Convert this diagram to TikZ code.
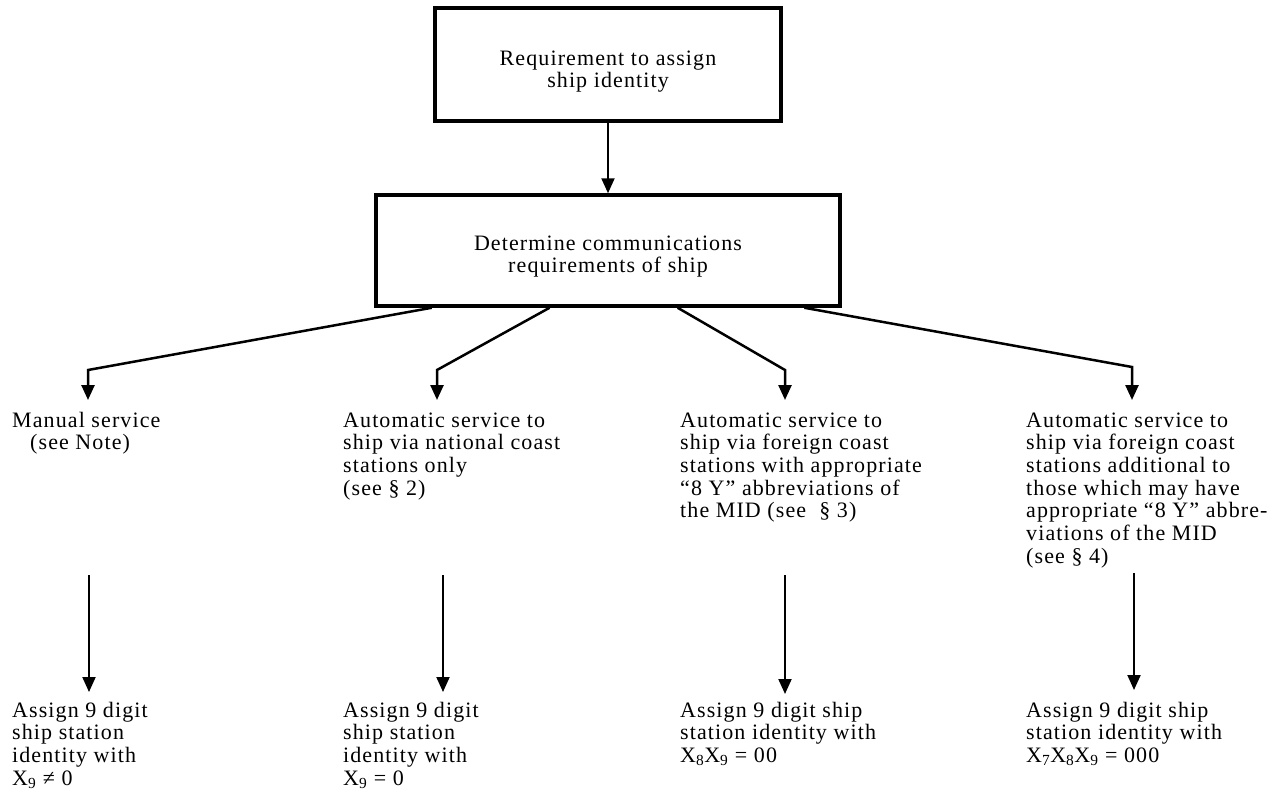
\documentclass[tikz,border=0pt]{standalone}
\usepackage{fontspec}
\setmainfont{Liberation Serif}[LetterSpace=5]
\usetikzlibrary{arrows.meta,calc}
\begin{document}
\begin{tikzpicture}[x=1pt,y=-1pt,
  box/.style={draw, line width=3.5pt, inner sep=0pt},
  txt/.style={anchor=north west, inner sep=0pt, align=left, font=\fontsize{22}{22.7}\selectfont},
  ctxt/.style={anchor=north, inner sep=0pt, align=center, font=\fontsize{22}{22.7}\selectfont},
  conn/.style={line width=2.5pt, line join=miter, -{Triangle[length=15pt,width=13pt]}},
  vconn/.style={line width=2pt, -{Triangle[length=15pt,width=13pt]}}]
\useasboundingbox (0,0) rectangle (1288,796);

% boxes
\node[box, minimum width=346pt, minimum height=113pt] (req) at (608,64.5) {};
\node[ctxt] (reqt) at (608,49) {\strut Requirement to assign\\ship identity};
\node[box, minimum width=464pt, minimum height=111pt] (det) at (608,250.5) {};
\node[ctxt] (dett) at (608,234) {\strut Determine communications\\requirements of ship};

\draw[vconn] (req.south) -- (det.north);

% branch start points on the bottom of the second box
\path (det.south west) -- (det.south east)
  coordinate[pos=0.123] (s1) coordinate[pos=0.375] (s2)
  coordinate[pos=0.649] (s3) coordinate[pos=0.920] (s4);

\coordinate (k1) at (88,370);   \coordinate (e1) at (88,400);
\coordinate (k2) at (437,370);  \coordinate (e2) at (437,400);
\coordinate (k3) at (785,370);  \coordinate (e3) at (785,400);
\coordinate (k4) at (1132,367); \coordinate (e4) at (1132,400);

\draw[conn] (s1) -- (k1) -- (e1);
\draw[conn] (s2) -- (k2) -- (e2);
\draw[conn] (s3) -- (k3) -- (e3);
\draw[conn] (s4) -- (k4) -- (e4);

% middle texts
\node[txt] (m1) at (12,411) {\strut Manual service\\\hspace*{18pt}(see Note)};
\node[txt] (m2) at (343,411) {\strut Automatic service to\\ship via national coast\\stations only\\(see § 2)};
\node[txt] (m3) at (680,411) {\strut Automatic service to\\ship via foreign coast\\stations with appropriate\\“8 Y” abbreviations of\\the MID (see~ § 3)};
\node[txt] (m4) at (1026,411) {\strut Automatic service to\\ship via foreign coast\\stations additional to\\those which may have\\appropriate “8 Y” abbre-\\viations of the MID\\(see § 4)};

% lower arrows
\coordinate (u1) at (89,575);   \coordinate (d1) at (89,692);
\coordinate (u2) at (443,575);  \coordinate (d2) at (443,692);
\coordinate (u3) at (785,575);  \coordinate (d3) at (785,694);
\coordinate (u4) at (1134,573); \coordinate (d4) at (1134,690);
\draw[vconn] (u1) -- (d1);
\draw[vconn] (u2) -- (d2);
\draw[vconn] (u3) -- (d3);
\draw[vconn] (u4) -- (d4);

% bottom texts
\node[txt] (a1) at (12,701) {\strut Assign 9 digit\\ship station\\identity with\\X\textsubscript{9} ≠ 0};
\node[txt] (a2) at (343,701) {\strut Assign 9 digit\\ship station\\identity with\\X\textsubscript{9} = 0};
\node[txt] (a3) at (680,701) {\strut Assign 9 digit ship\\station identity with\\X\textsubscript{8}X\textsubscript{9} = 00};
\node[txt] (a4) at (1026,701) {\strut Assign 9 digit ship\\station identity with\\X\textsubscript{7}X\textsubscript{8}X\textsubscript{9} = 000};
\end{tikzpicture}
\end{document}
